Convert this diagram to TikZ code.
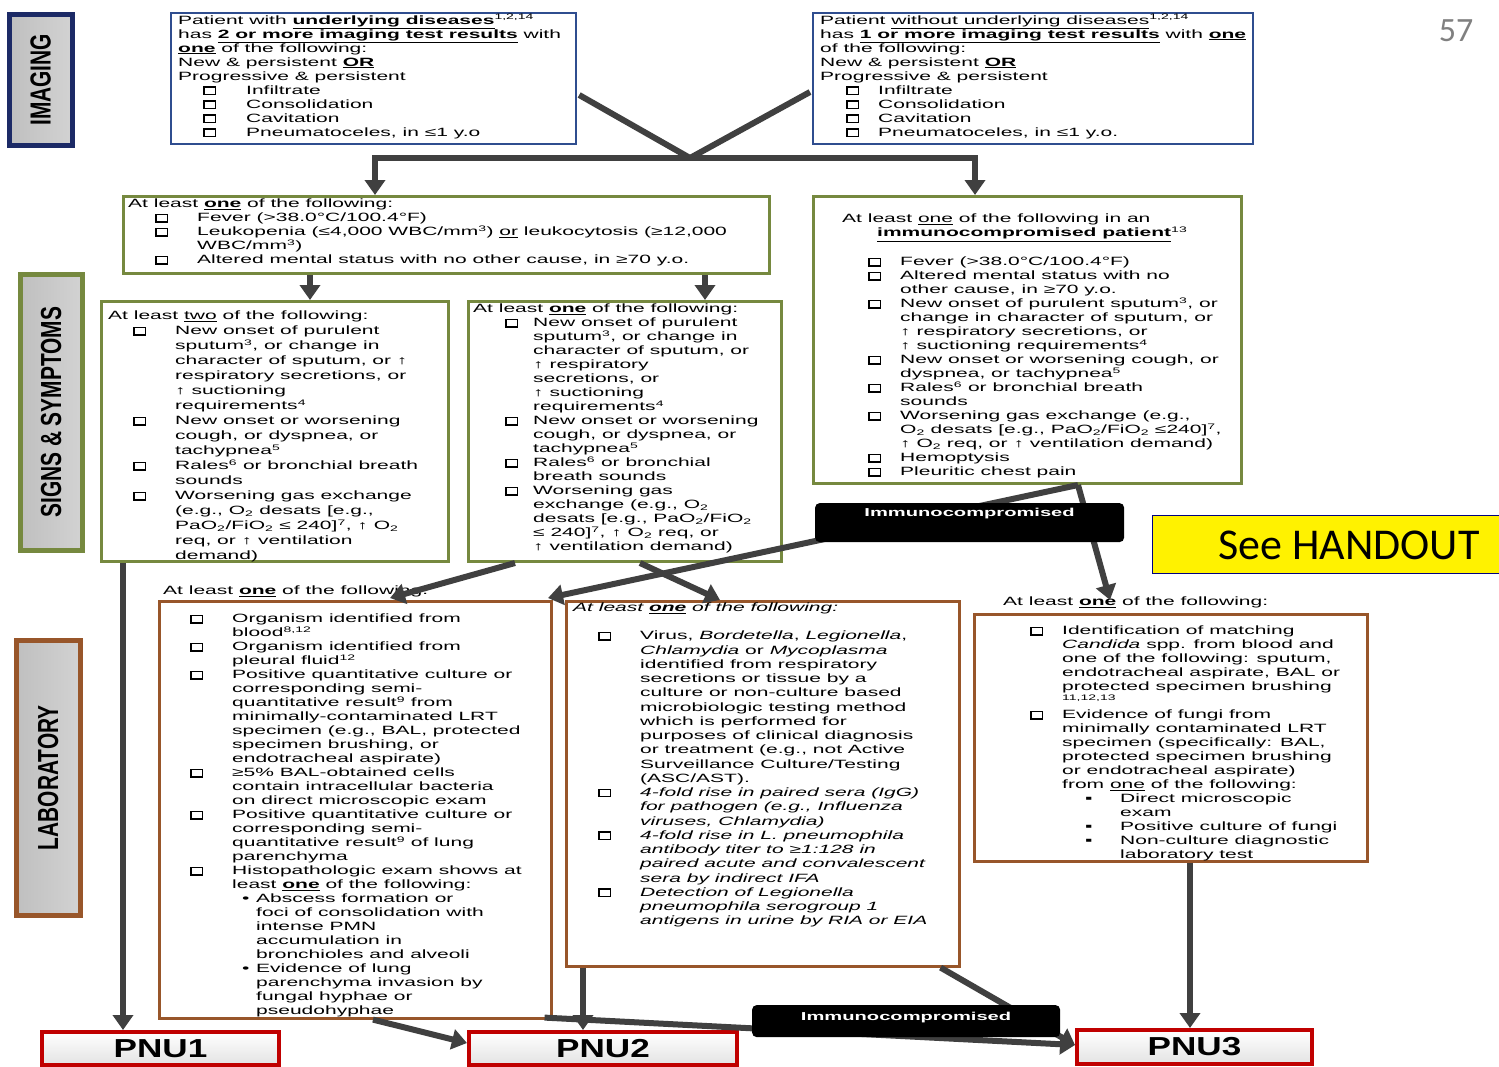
\documentclass[tikz,border=0pt]{standalone}
\usepackage{fontspec}
\setmainfont{Liberation Sans}[FakeStretch=1.75]
\newfontfamily\pnufont{Liberation Sans}[FakeStretch=1.35]
\newfontfamily\sidefont{Liberation Sans}
\newfontfamily\calfont{Carlito}
\usetikzlibrary{arrows.meta}
\definecolor{imgblue}{HTML}{2F4D8F}
\definecolor{sideblue}{HTML}{1C2A66}
\definecolor{signgreen}{HTML}{76893F}
\definecolor{labbrown}{HTML}{98562A}
\definecolor{pnured}{HTML}{C00000}
\definecolor{linkgray}{HTML}{404040}
\newlength\ckin
\newlength\ckw
\newcommand\cbx{\raisebox{0.6pt}{\setlength\fboxsep{0pt}\setlength\fboxrule{1.4pt}\fbox{\rule{0pt}{6pt}\hspace{10pt}}}}
\newcommand\ckl{\hspace*{\ckin}\makebox[\ckw][l]{\cbx}}
\newcommand\ckc{\hspace*{\ckin}\hspace*{\ckw}}
\newcommand\bul[3]{\ckc\hspace*{#1}\makebox[#2][l]{#3}}
\newcommand\bulc[1]{\ckc\hspace*{#1}}
\newcommand\ubf[1]{\underline{\textbf{#1}}}
\newcommand\boxfont{\fontsize{12}{14}\selectfont}
\begin{document}
\begin{tikzpicture}[x=1pt,y=-1pt,
  box/.style={draw, fill=white, anchor=north west, inner sep=0pt, line width=2.2pt},
  img box/.style={box, draw=imgblue},
  sign box/.style={box, draw=signgreen, line width=3pt},
  lab box/.style={box, draw=labbrown, line width=2.6pt},
  pnu box/.style={box, draw=pnured, line width=4pt, top color=white, bottom color=gray!22,
    font=\pnufont\bfseries\fontsize{26}{28}\selectfont},
  side box/.style={box, line width=4.5pt, left color=gray!50, middle color=gray!8, right color=gray!35},
  side text/.style={rotate=90, font=\sidefont\bfseries\fontsize{29}{32}\selectfont},
  dark bar/.style={box, fill=black, draw=black, rounded corners=4pt},
  bar text/.style={text=white, font=\bfseries\fontsize{11.5}{12}\selectfont},
  txt/.style={anchor=north west, inner sep=0pt, align=left, font=\boxfont},
  check indent/.style 2 args={execute at begin node={\setlength\ckin{#1}\setlength\ckw{#2}}},
  link/.style={draw=linkgray, line width=6pt},
  link tip/.style={link, -{Triangle[length=15pt,width=20pt]}}]

  \fill[white] (0,0) rectangle (1499,1066);
  \useasboundingbox (0,0) rectangle (1499,1066);

  % side labels
  \node[side box, draw=sideblue, minimum width=63pt, minimum height=131pt] (sideimg) at (7,12) {};
  \node[side text] (sideimgtxt) at (sideimg.center) {\scalebox{0.72}[1]{IMAGING}};
  \node[side box, draw=signgreen, minimum width=62pt, minimum height=276pt] (sidesgn) at (18,272) {};
  \node[side text] (sidesgntxt) at (sidesgn.center) {\scalebox{0.72}[1]{SIGNS \& SYMPTOMS}};
  \node[side box, draw=labbrown, minimum width=64pt, minimum height=275pt] (sidelab) at (14,638) {};
  \node[side text] (sidelabtxt) at (sidelab.center) {\scalebox{0.72}[1]{LABORATORY}};

  \node[font=\calfont\fontsize{34}{36}\selectfont, text=gray] (pagenum) at (1456,31) {57};

  % imaging
  \node[img box, minimum width=405pt, minimum height=131pt] (imgund) at (170,12) {};
  \node[txt, check indent={25pt}{43pt}] (imgundtxt) at (178,14) {Patient with \ubf{underlying diseases}\textsuperscript{1,2,14}\\
    has \ubf{2 or more imaging test results} with\\
    \ubf{one} of the following:\\
    New \& persistent \ubf{OR}\\
    Progressive \& persistent\\
    \ckl Infiltrate\\
    \ckl Consolidation\\
    \ckl Cavitation\\
    \ckl Pneumatoceles, in ≤1 y.o};

  \node[img box, minimum width=440pt, minimum height=131pt] (imgnot) at (812,12) {};
  \node[txt, check indent={26pt}{32pt}] (imgnottxt) at (820,14) {Patient \underline{without underlying diseases}\textsuperscript{1,2,14}\\
    has \ubf{1 or more imaging test results} with \ubf{one}\\
    of the following:\\
    New \& persistent \ubf{OR}\\
    Progressive \& persistent\\
    \ckl Infiltrate\\
    \ckl Consolidation\\
    \ckl Cavitation\\
    \ckl Pneumatoceles, in ≤1 y.o.};

  % signs and symptoms
  \node[sign box, minimum width=646pt, minimum height=77pt] (sgnall) at (122,195) {};
  \node[txt, check indent={27pt}{42pt}] (sgnalltxt) at (128,199) {At least \ubf{one} of the following:\\
    \ckl Fever (>38.0°C/100.4°F)\\
    \ckl Leukopenia (≤4,000 WBC/mm\textsuperscript{3}) \underline{or} leukocytosis (≥12,000\\
    \hspace*{69pt}WBC/mm\textsuperscript{3})\\
    \ckl Altered mental status with no other cause, in ≥70 y.o.};

  \node[sign box, minimum width=347pt, minimum height=260pt] (sgntwo) at (100,300) {};
  \node[txt, font=\fontsize{12}{15}\selectfont, check indent={25pt}{42pt}] (sgntwotxt) at (108,311) {At least \underline{two} of the following:\\
    \ckl New onset of purulent\\
    \ckc sputum\textsuperscript{3}, or change in\\
    \ckc character of sputum, or ↑\\
    \ckc respiratory secretions, or\\
    \ckc ↑ suctioning\\
    \ckc requirements\textsuperscript{4}\\
    \ckl New onset or worsening\\
    \ckc cough, or dyspnea, or\\
    \ckc tachypnea\textsuperscript{5}\\
    \ckl Rales\textsuperscript{6} or bronchial breath\\
    \ckc sounds\\
    \ckl Worsening gas exchange\\
    \ckc (e.g., O\textsubscript{2} desats [e.g.,\\
    \ckc PaO\textsubscript{2}/FiO\textsubscript{2} ≤ 240]\textsuperscript{7}, ↑ O\textsubscript{2}\\
    \ckc req, or ↑ ventilation\\
    \ckc demand)};

  \node[sign box, minimum width=313pt, minimum height=260pt] (sgnone) at (467,300) {};
  \node[txt, check indent={32pt}{28pt}] (sgnonetxt) at (473,304) {At least \ubf{one} of the following:\\
    \ckl New onset of purulent\\
    \ckc sputum\textsuperscript{3}, or change in\\
    \ckc character of sputum, or\\
    \ckc ↑ respiratory\\
    \ckc secretions, or\\
    \ckc ↑ suctioning\\
    \ckc requirements\textsuperscript{4}\\
    \ckl New onset or worsening\\
    \ckc cough, or dyspnea, or\\
    \ckc tachypnea\textsuperscript{5}\\
    \ckl Rales\textsuperscript{6} or bronchial\\
    \ckc breath sounds\\
    \ckl Worsening gas\\
    \ckc exchange (e.g., O\textsubscript{2}\\
    \ckc desats [e.g., PaO\textsubscript{2}/FiO\textsubscript{2}\\
    \ckc ≤ 240]\textsuperscript{7}, ↑ O\textsubscript{2} req, or\\
    \ckc ↑ ventilation demand)};

  \node[sign box, minimum width=428pt, minimum height=287pt] (sgnimm) at (812,195) {};
  \node[txt, check indent={26pt}{32pt}] (sgnimmtxt) at (842,214) {At least \underline{one} of the following in an\\
    \hspace*{35pt}\ubf{immunocompromised patient}\textsuperscript{13}\\[15pt]
    \ckl Fever (>38.0°C/100.4°F)\\
    \ckl Altered mental status with no\\
    \ckc other cause, in ≥70 y.o.\\
    \ckl New onset of purulent sputum\textsuperscript{3}, or\\
    \ckc change in character of sputum, or\\
    \ckc ↑ respiratory secretions, or\\
    \ckc ↑ suctioning requirements\textsuperscript{4}\\
    \ckl New onset or worsening cough, or\\
    \ckc dyspnea, or tachypnea\textsuperscript{5}\\
    \ckl Rales\textsuperscript{6} or bronchial breath\\
    \ckc sounds\\
    \ckl Worsening gas exchange (e.g.,\\
    \ckc O\textsubscript{2} desats [e.g., PaO\textsubscript{2}/FiO\textsubscript{2} ≤240]\textsuperscript{7},\\
    \ckc ↑ O\textsubscript{2} req, or ↑ ventilation demand)\\
    \ckl Hemoptysis\\
    \ckl Pleuritic chest pain};

  % laboratory
  \node[lab box, minimum width=392pt, minimum height=417pt] (labbac) at (158,600) {};
  \node[txt] (labbachd) at (163,586) {At least \ubf{one} of the following:};
  \node[txt, check indent={0pt}{42pt}] (labbactxt) at (190,614) {\ckl Organism identified from\\
    \ckc blood\textsuperscript{8,12}\\
    \ckl Organism identified from\\
    \ckc pleural fluid\textsuperscript{12}\\
    \ckl Positive quantitative culture or\\
    \ckc corresponding semi-\\
    \ckc quantitative result\textsuperscript{9} from\\
    \ckc minimally-contaminated LRT\\
    \ckc specimen (e.g., BAL, protected\\
    \ckc specimen brushing, or\\
    \ckc endotracheal aspirate)\\
    \ckl ≥5\% BAL-obtained cells\\
    \ckc contain intracellular bacteria\\
    \ckc on direct microscopic exam\\
    \ckl Positive quantitative culture or\\
    \ckc corresponding semi-\\
    \ckc quantitative result\textsuperscript{9} of lung\\
    \ckc parenchyma\\
    \ckl Histopathologic exam shows at\\
    \ckc least \ubf{one} of the following:\\
    \bul{10pt}{14pt}{•}Abscess formation or\\
    \bulc{24pt}foci of consolidation with\\
    \bulc{24pt}intense PMN\\
    \bulc{24pt}accumulation in\\
    \bulc{24pt}bronchioles and alveoli\\
    \bul{10pt}{14pt}{•}Evidence of lung\\
    \bulc{24pt}parenchyma invasion by\\
    \bulc{24pt}fungal hyphae or\\
    \bulc{24pt}pseudohyphae};

  \node[lab box, minimum width=393pt, minimum height=365pt] (labvir) at (565,600) {};
  \node[txt, font=\boxfont\itshape] (labvirhd) at (573,603) {At least \ubf{one} of the following:};
  \node[txt, font=\fontsize{12}{14.25}\selectfont, check indent={0pt}{42pt}] (labvirtxt) at (598,631) {\ckl Virus, \textit{Bordetella}, \textit{Legionella},\\
    \ckc \textit{Chlamydia} or \textit{Mycoplasma}\\
    \ckc identified from respiratory\\
    \ckc secretions or tissue by a\\
    \ckc culture or non-culture based\\
    \ckc microbiologic testing method\\
    \ckc which is performed for\\
    \ckc purposes of clinical diagnosis\\
    \ckc or treatment (e.g., not Active\\
    \ckc Surveillance Culture/Testing\\
    \ckc (ASC/AST).\\
    \ckl \textit{4-fold rise in paired sera (IgG)}\\
    \ckc \textit{for pathogen (e.g., Influenza}\\
    \ckc \textit{viruses, Chlamydia)}\\
    \ckl \textit{4-fold rise in L. pneumophila}\\
    \ckc \textit{antibody titer to ≥1:128 in}\\
    \ckc \textit{paired acute and convalescent}\\
    \ckc \textit{sera by indirect IFA}\\
    \ckl \textit{Detection of Legionella}\\
    \ckc \textit{pneumophila serogroup 1}\\
    \ckc \textit{antigens in urine by RIA or EIA}};

  \node[lab box, minimum width=393pt, minimum height=247pt] (labfun) at (973,613) {};
  \node[txt] (labfunhd) at (1003,597) {At least \ubf{one} of the following:};
  \node[txt, check indent={0pt}{32pt}] (labfuntxt) at (1030,626) {\ckl Identification of matching\\
    \ckc \textit{Candida} spp. from blood and\\
    \ckc one of the following: sputum,\\
    \ckc endotracheal aspirate, BAL or\\
    \ckc protected specimen brushing\\
    \ckc \textsuperscript{11,12,13}\\
    \ckl Evidence of fungi from\\
    \ckc minimally contaminated LRT\\
    \ckc specimen (specifically: BAL,\\
    \ckc protected specimen brushing\\
    \ckc or endotracheal aspirate)\\
    \ckc from \underline{one} of the following:\\
    \bul{23pt}{35pt}{▪}Direct microscopic\\
    \bulc{58pt}exam\\
    \bul{23pt}{35pt}{▪}Positive culture of fungi\\
    \bul{23pt}{35pt}{▪}Non-culture diagnostic\\
    \bulc{58pt}laboratory test};

  % outcomes
  \node[pnu box, minimum width=237pt, minimum height=33pt] (pnuA) at (40,1030) {PNU1};
  \node[pnu box, minimum width=268pt, minimum height=33pt] (pnuB) at (467,1030) {PNU2};
  \node[pnu box, minimum width=235pt, minimum height=34pt] (pnuC) at (1075,1028) {PNU3};

  % connectors
  \coordinate (imgjoin) at (690,158);
  \coordinate (imgleft) at (375,158);
  \coordinate (imgright) at (975,158);
  \draw[link] ([shift={(2,83)}]imgund.north east) -- (imgjoin);
  \draw[link] ([shift={(-2,80)}]imgnot.north west) -- (imgjoin);
  \draw[link tip] (imgjoin) -- (imgleft) -- (imgleft |- sgnall.north);
  \draw[link tip] (imgjoin) -- (imgright) -- (imgright |- sgnimm.north);

  \coordinate (twotop) at ([shift={(210,0)}]sgntwo.north west);
  \coordinate (onetop) at ([shift={(238,0)}]sgnone.north west);
  \draw[link tip] (twotop |- sgnall.south) -- (twotop);
  \draw[link tip] (onetop |- sgnall.south) -- (onetop);

  \coordinate (pnuAin) at ([shift={(83,0)}]pnuA.north west);
  \draw[link tip] (pnuAin |- sgntwo.south) -- (pnuAin);
  \draw[link tip] ([shift={(48,0)}]sgnone.south west) -- ([shift={(232,-2)}]labbac.north west);
  \draw[link tip] ([shift={(173,0)}]sgnone.south west) -- ([shift={(155,0)}]labvir.north west);
  \draw[link tip] ([shift={(266,0)}]sgnimm.south west) -- ([shift={(390,-2)}]labbac.north west);
  \draw[link tip] ([shift={(266,0)}]sgnimm.south west) -- ([shift={(137,-13)}]labfun.north west);

  \draw[link tip] ([shift={(215,0)}]labbac.south west) -- ([shift={(0,13)}]pnuB.north west);
  \coordinate (pnuBin) at ([shift={(116,0)}]pnuB.north west);
  \draw[link tip] (pnuBin |- labvir.south) -- (pnuBin);
  \draw[link tip] ([shift={(-8,-2)}]labbac.south east) -- ([shift={(0,17)}]pnuC.north west);
  \draw[link tip] ([shift={(-20,0)}]labvir.south east) -- ([shift={(0,17)}]pnuC.north west);
  \coordinate (pnuCin) at ([shift={(115,0)}]pnuC.north west);
  \draw[link tip] (pnuCin |- labfun.south) -- (pnuCin);

  % immunocompromised bars
  \node[dark bar, minimum width=307pt, minimum height=37pt] (immtop) at (815,503) {};
  \node[bar text] (immtoptxt) at ([shift={(0,11)}]immtop.north) {Immunocompromised};
  \node[dark bar, minimum width=306pt, minimum height=30pt] (immbot) at (752,1005) {};
  \node[bar text] (immbottxt) at ([shift={(0,13)}]immbot.north) {Immunocompromised};

  % handout note
  \node[box, draw=blue!50!black, line width=0.8pt, fill=yellow, minimum width=347pt, minimum height=58pt] (handout) at (1152,515) {};
  \node[font=\calfont\fontsize{44}{48}\selectfont] (handouttxt) at (1349,545) {See HANDOUT};

\end{tikzpicture}
\end{document}
